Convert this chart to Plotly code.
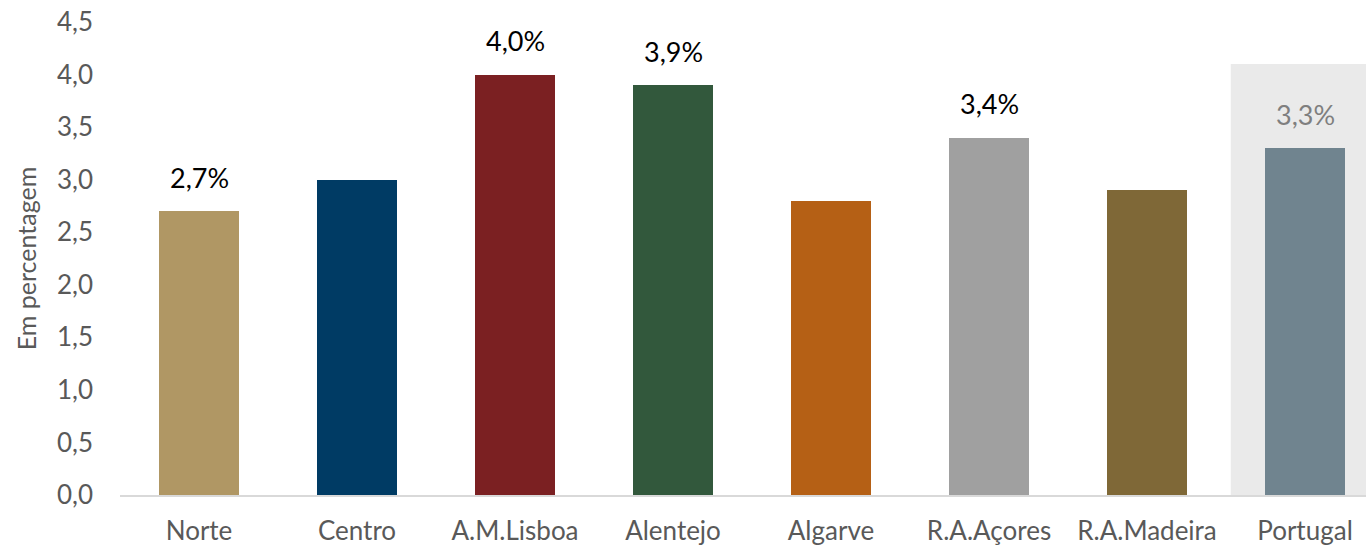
import plotly.graph_objects as go

# Regional values (percent)
regions = ["Norte", "Centro", "A.M.Lisboa", "Alentejo", "Algarve",
           "R.A.Açores", "R.A.Madeira", "Portugal"]
values = [2.7, 3.0, 4.0, 3.9, 2.8, 3.4, 2.9, 3.3]
colors = ["#B09764", "#003B64", "#7B2022", "#32583C", "#B56015",
          "#A0A0A0", "#7F6837", "#70848F"]
# Regions whose value is printed above the bar
labelled = ["Norte", "A.M.Lisboa", "Alentejo", "R.A.Açores", "Portugal"]
label_colors = {"Portugal": "#7F7F7F"}

y_ticks = [0, 0.5, 1.0, 1.5, 2.0, 2.5, 3.0, 3.5, 4.0, 4.5]
y_tick_text = [f"{v:.1f}".replace(".", ",") for v in y_ticks]

FONT = "Lato, 'Open Sans', sans-serif"
GREY = "#595959"

fig = go.Figure()
fig.add_trace(go.Bar(
    x=list(range(len(regions))),
    y=values,
    marker=dict(color=colors, line=dict(width=0)),
    width=0.506,
    hoverinfo="skip",
))

# Highlight band behind the national total
fig.add_shape(type="rect", xref="x", yref="y",
              x0=6.53, x1=7.6, y0=0, y1=4.1,
              fillcolor="#EAEAEA", line=dict(width=0), layer="below")

for i, (r, v) in enumerate(zip(regions, values)):
    if r in labelled:
        fig.add_annotation(
            x=i, y=v, xref="x", yref="y",
            text=f"{v:.1f}".replace(".", ",") + "%",
            showarrow=False, yanchor="middle", yshift=34,
            font=dict(family=FONT, size=27, color=label_colors.get(r, "#000000")),
        )

fig.update_layout(
    width=1366, height=546,
    margin=dict(l=120, r=0, t=22, b=51, autoexpand=False),
    paper_bgcolor="white", plot_bgcolor="rgba(0,0,0,0)",
    showlegend=False, bargap=0,
    font=dict(family=FONT, color=GREY),
)
fig.update_xaxes(
    range=[-0.5, 7.386],
    tickmode="array", tickvals=list(range(len(regions))), ticktext=regions,
    tickfont=dict(family=FONT, size=26, color=GREY),
    showgrid=False, zeroline=False,
    showline=True, linecolor="#D9D9D9", linewidth=1.5,
    ticks="", ticklabelstandoff=12, automargin=False,
)
fig.update_yaxes(
    range=[0, 4.5],
    tickmode="array", tickvals=y_ticks, ticktext=y_tick_text,
    tickfont=dict(family=FONT, size=26, color=GREY),
    showgrid=False, zeroline=False, showline=False, ticks="",
    ticklabelstandoff=26, automargin=False,
    title=dict(text="Em percentagem", font=dict(family=FONT, size=25, color=GREY),
               standoff=13),
)

fig.write_html("out.html")
